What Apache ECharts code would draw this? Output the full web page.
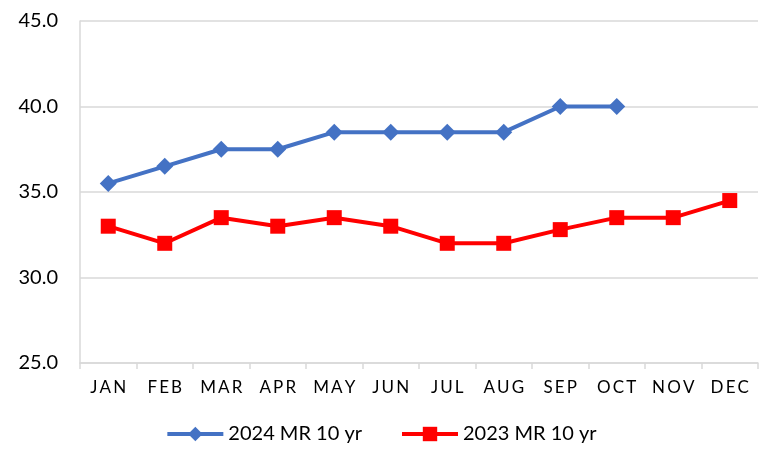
<!DOCTYPE html>
<html>
<head>
<meta charset="utf-8">
<script src="https://cdn.jsdelivr.net/npm/echarts@6/dist/echarts.min.js"></script>
<style>
  html, body { margin: 0; padding: 0; background: #ffffff; }
  #chart { width: 762px; height: 454px; }
</style>
</head>
<body>
<div id="chart"></div>
<script>
// months on the x axis
var months = ['JAN', 'FEB', 'MAR', 'APR', 'MAY', 'JUN', 'JUL', 'AUG', 'SEP', 'OCT', 'NOV', 'DEC']
// 2024 only runs to OCT
var mr2024 = [35.5, 36.5, 37.5, 37.5, 38.5, 38.5, 38.5, 38.5, 40.0, 40.0, null, null]
var mr2023 = [33.0, 32.0, 33.5, 33.0, 33.5, 33.0, 32.0, 32.0, 32.8, 33.5, 33.5, 34.5]
var seriesNames = ['2024 MR 10 yr', '2023 MR 10 yr']

var chart = echarts.init(document.getElementById('chart'))
chart.setOption({
  backgroundColor: '#ffffff',
  animation: false,
  textStyle: { fontFamily: 'Lato' },
  grid: {
    left: 80,
    right: 4,
    top: 21,
    bottom: 91
  },
  legend: {
    bottom: 5,
    left: 'center',
    itemWidth: 56,
    itemHeight: 18,
    itemGap: 38,
    lineStyle: { width: 4 },
    textStyle: { fontSize: 20, color: '#000000', fontFamily: 'Lato' },
    data: seriesNames
  },
  xAxis: {
    type: 'category',
    data: months,
    boundaryGap: true,
    axisLine: { lineStyle: { color: '#d9d9d9', width: 1.5 } },
    axisTick: { show: true, length: 6, lineStyle: { color: '#d9d9d9', width: 1.5 } },
    axisLabel: {
      margin: 16,
      fontSize: 17,
      color: '#000000',
      fontFamily: 'Lato',
      // letter-spaced like the original
      formatter: function (v) { return v.split('').join('\u2009') }
    }
  },
  yAxis: {
    type: 'value',
    min: 25,
    max: 45,
    interval: 5,
    axisLine: { show: true, lineStyle: { color: '#d9d9d9', width: 1.5 } },
    axisTick: { show: false },
    axisLabel: {
      margin: 22,
      fontSize: 20,
      color: '#000000',
      fontFamily: 'Lato',
      formatter: function (v) { return v.toFixed(1) }
    },
    splitLine: { lineStyle: { color: '#d9d9d9', width: 1.5 } }
  },
  series: [
    {
      name: seriesNames[0],
      type: 'line',
      data: mr2024,
      color: '#4472C4',
      symbol: 'diamond',
      symbolSize: 17,
      lineStyle: { width: 4 },
      itemStyle: { color: '#4472C4' }
    },
    {
      name: seriesNames[1],
      type: 'line',
      data: mr2023,
      color: '#FF0000',
      symbol: 'rect',
      symbolSize: 15,
      lineStyle: { width: 4 },
      itemStyle: { color: '#FF0000' }
    }
  ]
})
</script>
</body>
</html>
